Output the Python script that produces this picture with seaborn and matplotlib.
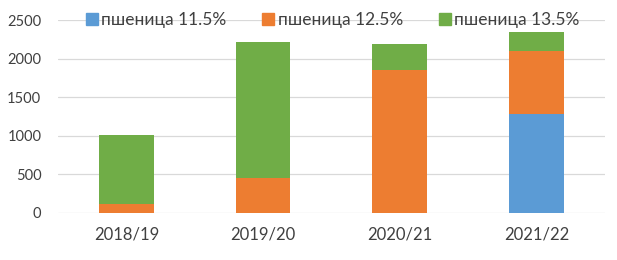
import matplotlib
matplotlib.use("Agg")
import matplotlib.pyplot as plt
from matplotlib.lines import Line2D
import seaborn as sns
import pandas as pd
import numpy as np

seasons = ["2018/19", "2019/20", "2020/21", "2021/22"]
wheat_115 = [0, 0, 0, 1280]
wheat_125 = [120, 450, 1850, 820]
wheat_135 = [890, 1770, 340, 240]
series_labels = ["пшеница 11.5%", "пшеница 12.5%", "пшеница 13.5%"]
colors = ["#5B9BD5", "#ED7D31", "#70AD47"]
yticks = [0, 500, 1000, 1500, 2000, 2500]

sns.set_theme(style="white")
plt.rcParams['font.family'] = ['Lato', 'DejaVu Sans']

df = pd.DataFrame({"season": seasons, "a": wheat_115, "b": wheat_125, "c": wheat_135})
df["cum_a"] = df["a"]
df["cum_b"] = df["a"] + df["b"]
df["cum_c"] = df["a"] + df["b"] + df["c"]

fig = plt.figure(figsize=(6.17, 2.6), dpi=100)
ax = fig.add_axes([0.094, 0.181, 0.886, 0.742])

for col, color in [("cum_c", colors[2]), ("cum_b", colors[1]), ("cum_a", colors[0])]:
    sns.barplot(data=df, x="season", y=col, color=color, width=0.4,
                saturation=1, ax=ax, zorder=3, edgecolor="none")

ax.set_ylim(0, 2500)
ax.set_yticks(yticks)
ax.set_yticklabels([str(v) for v in yticks], fontsize=10.5, color="#404040")
ax.tick_params(axis="x", labelsize=12, colors="#404040", length=0, pad=10)
ax.tick_params(axis="y", length=0, pad=12)
ax.set_xlabel("")
ax.set_ylabel("")
ax.grid(axis="y", color="#D9D9D9", linewidth=0.9, zorder=0)
ax.set_axisbelow(True)
for s in ax.spines.values():
    s.set_visible(False)
ax.set_xlim(-0.5, 3.5)

handles = [Line2D([0], [0], marker="s", linestyle="none", markersize=9,
                  markerfacecolor=c, markeredgecolor=c) for c in colors]
leg = ax.legend(handles, series_labels, loc="center", bbox_to_anchor=(0.5, 1.0),
                ncol=3, frameon=False, fontsize=12.5, handletextpad=0.05,
                columnspacing=1.9, borderaxespad=0, handlelength=1.0)
for t in leg.get_texts():
    t.set_color("#404040")

fig.savefig("out.png", dpi=100)
